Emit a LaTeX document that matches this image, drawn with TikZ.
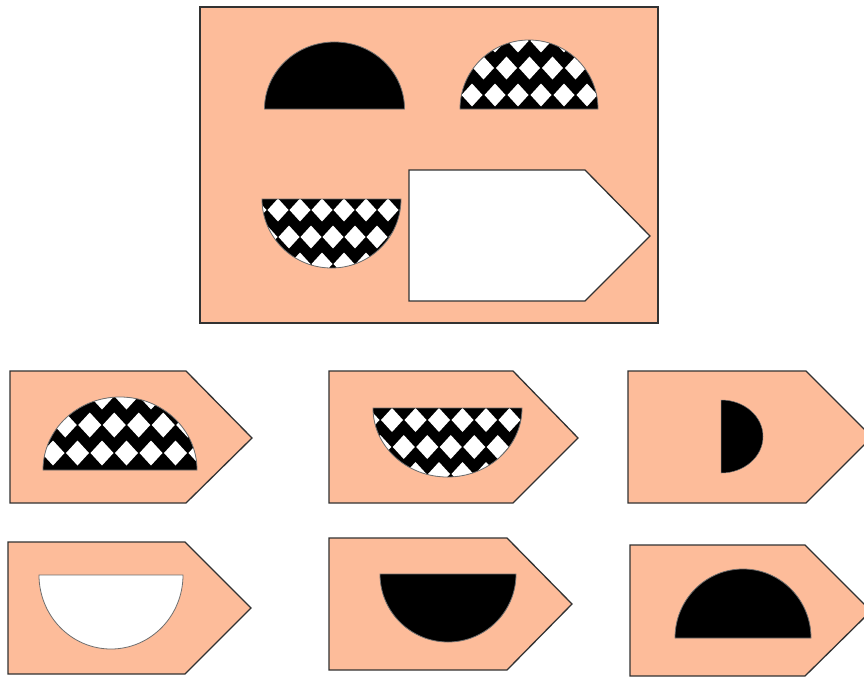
\documentclass[tikz,border=0pt]{standalone}
\definecolor{peach}{RGB}{253,188,154}
\definecolor{edgegray}{RGB}{50,50,50}
\definecolor{rimgray}{RGB}{110,110,110}
\tikzset{
  panel/.style={fill=peach,draw=edgegray,line width=1.3pt,line join=miter},
  rim/.style={draw=rimgray,line width=0.8pt},
}
\newcommand\checkerfill[6]{%
  \foreach \n in {0,1,2,3}{%
    \foreach \m in {-2,...,8}{%
      \pgfmathsetmacro\cx{#1+\m*#3+mod(\n,2)*#3/2}%
      \pgfmathsetmacro\cy{#2+\n*#4}%
      \fill[white] (\cx,\cy) +(0,#6) -- +(#5,0) -- +(0,-#6) -- +(-#5,0) -- cycle;
    }%
  }%
}
\begin{document}
\begin{tikzpicture}[x=1pt,y=1pt]
\useasboundingbox (0,0) rectangle (864,-677);
\clip (0,0) rectangle (864,-677);
\fill[white] (0,0) rectangle (864,-677);

% ---------- main panel ----------
\draw[panel,line width=1.6pt] (200,-7) rectangle (658,-323);

% top-left black half disc
\fill[black] (264.5,-109) arc[start angle=180,end angle=0,x radius=70pt,y radius=67pt] -- cycle;
\draw[rim] (264.5,-109) arc[start angle=180,end angle=0,x radius=70pt,y radius=67pt] -- cycle;

% top-right checker half disc
\begin{scope}
\clip (460,-109) arc[start angle=180,end angle=0,x radius=69pt,y radius=69pt] -- cycle;
\fill[black] (450,-30) rectangle (610,-115);
\checkerfill{472}{-95}{23}{27}{10.5}{11.5}
\end{scope}
\draw[rim] (460,-109) arc[start angle=180,end angle=0,x radius=69pt,y radius=69pt] -- cycle;

% bottom-left checker lower half disc
\begin{scope}
\clip (262,-199) arc[start angle=180,end angle=360,x radius=69.5pt,y radius=69pt] -- cycle;
\fill[black] (255,-195) rectangle (410,-275);
\checkerfill{278}{-210}{22}{-27}{10.5}{11.5}
\end{scope}
\draw[rim] (262,-199) arc[start angle=180,end angle=360,x radius=69.5pt,y radius=69pt] -- cycle;

% white arrow pentagon (blank)
\draw[edgegray,fill=white,line width=1.3pt] (409,-170) -- (585,-170) -- (650,-236) -- (585,-301) -- (409,-301) -- cycle;

% ---------- option 1 ----------
\draw[panel] (10,-371) -- (186,-371) -- (252,-438) -- (186,-503) -- (10,-503) -- cycle;
\begin{scope}
\clip (43,-470) arc[start angle=180,end angle=0,x radius=77pt,y radius=73pt] -- cycle;
\fill[black] (35,-390) rectangle (205,-475);
\checkerfill{53}{-453}{24.5}{28}{11.5}{12.5}
\end{scope}
\draw[rim] (43,-470) arc[start angle=180,end angle=0,x radius=77pt,y radius=73pt] -- cycle;

% ---------- option 2 ----------
\draw[panel] (329,-371) -- (513,-371) -- (578,-438) -- (513,-503) -- (329,-503) -- cycle;
\begin{scope}
\clip (373,-408) arc[start angle=180,end angle=360,x radius=74.5pt,y radius=69pt] -- cycle;
\fill[black] (365,-400) rectangle (530,-485);
\checkerfill{392}{-420}{23.5}{-27}{11}{12}
\end{scope}
\draw[rim] (373,-408) arc[start angle=180,end angle=360,x radius=74.5pt,y radius=69pt] -- cycle;

% ---------- option 3 ----------
\draw[panel] (628,-371) -- (806,-371) -- (872,-437) -- (806,-503) -- (628,-503) -- cycle;
\fill[black] (721,-400) arc[start angle=90,end angle=-90,x radius=42pt,y radius=36.5pt] -- cycle;
\draw[rim,line width=0.5pt] (721,-400) arc[start angle=90,end angle=-90,x radius=42pt,y radius=36.5pt] -- cycle;

% ---------- option 4 ----------
\draw[panel] (8,-542) -- (185,-542) -- (251,-608) -- (185,-674) -- (8,-674) -- cycle;
\draw[rim,fill=white] (39,-575) arc[start angle=180,end angle=360,x radius=72pt,y radius=74pt] -- cycle;

% ---------- option 5 ----------
\draw[panel] (329,-538) -- (507,-538) -- (572,-604) -- (507,-670) -- (329,-670) -- cycle;
\fill[black] (380,-574) arc[start angle=180,end angle=360,x radius=68pt,y radius=68pt] -- cycle;
\draw[rim] (380,-574) arc[start angle=180,end angle=360,x radius=68pt,y radius=68pt] -- cycle;

% ---------- option 6 ----------
\draw[panel] (630,-545) -- (805,-545) -- (871,-611) -- (805,-676) -- (630,-676) -- cycle;
\fill[black] (675,-638) arc[start angle=180,end angle=0,x radius=68pt,y radius=69pt] -- cycle;
\draw[rim] (675,-638) arc[start angle=180,end angle=0,x radius=68pt,y radius=69pt] -- cycle;
\end{tikzpicture}
\end{document}
